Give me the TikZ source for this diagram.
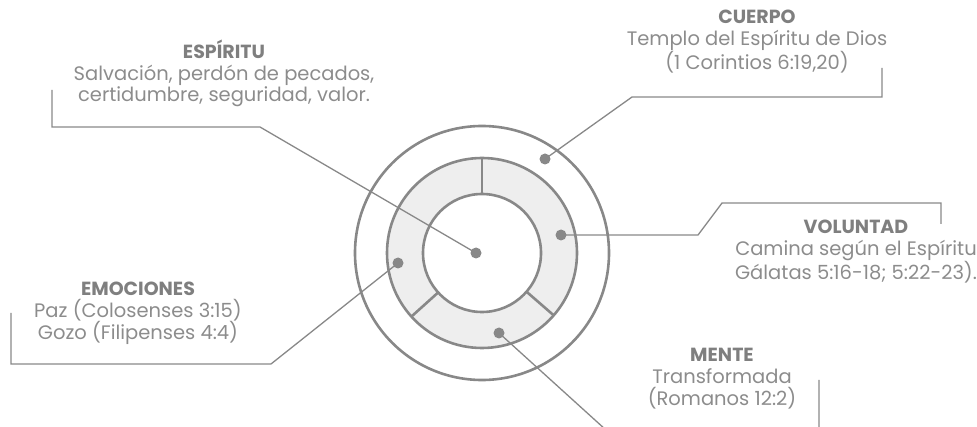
\documentclass[tikz,border=0pt]{standalone}
\usepackage{fontspec}
\setmainfont{Poppins}
\usepackage{tikz}
\usetikzlibrary{positioning}

\definecolor{linegray}{HTML}{888888}
\definecolor{headgray}{HTML}{7F7F7F}
\definecolor{textgray}{HTML}{8C8C8C}
\definecolor{ringgray}{HTML}{EEEEEE}

\newcommand{\titulo}[1]{{\fontsize{19}{20}\selectfont\bfseries\color{headgray}#1}\\[0.5pt]}

\begin{document}
\begin{tikzpicture}[x=1pt,y=-1pt,
    ring/.style={draw=linegray,line width=2.6pt},
    dot/.style={circle,fill=linegray,inner sep=0pt,minimum size=11pt},
    lead/.style={draw=linegray,line width=1.3pt},
    infobox/.style={anchor=base,align=center,inner sep=0pt,text=textgray,
        font=\fontsize{19.5}{21.5}\selectfont}]
  \clip (0,0) rectangle (977,427);

  % circles
  \coordinate (ctr) at (482,253);
  \fill[ringgray,even odd rule] (ctr) circle (95pt) (ctr) circle (59pt);
  \draw[ring] (ctr) circle (127pt);
  \draw[ring] (ctr) circle (95pt);
  \draw[ring] (ctr) circle (59pt);
  \foreach \a in {-90,138,41}
    \draw[ring,shift={(ctr)}] (\a:59) -- (\a:95);

  % dots
  \node[dot] (dEsp) at (476,253) {};
  \node[dot] (dCue) at (545,159) {};
  \node[dot] (dVol) at (561,235) {};
  \node[dot] (dEmo) at (398,263) {};
  \node[dot] (dMen) at (499,333) {};

  % leader lines
  \coordinate (eEsp) at (52,90);
  \coordinate (eCue) at (882,68);
  \coordinate (eVol) at (941,224);
  \coordinate (eEmo) at (11,313);
  \coordinate (eMen) at (819,380);
  \draw[lead] (dEsp.center) -- (260,127) -- (52,127) -- (eEsp);
  \draw[lead] (dCue.center) -- (632,97) -- (882,97) -- (eCue);
  \draw[lead] (dVol.center) -- (698,235) -- (722,203) -- (941,203) -- (eVol);
  \draw[lead] (dEmo.center) -- (271,364) -- (11,364) -- (eEmo);
  \draw[lead] (dMen.center) -- (606,430) -- (819,430) -- (eMen);

  % texts (base = last line)
  \node[infobox] (espiritu) at (224,102)
    {\titulo{ESPÍRITU}Salvación, perdón de pecados,\\certidumbre, seguridad, valor.};
  \node[infobox] (cuerpo) at (757,70)
    {\titulo{CUERPO}Templo del Espíritu de Dios\\(1 Corintios 6:19,20)};
  \node[infobox] (voluntad) at (856,280)
    {\titulo{VOLUNTAD}Camina según el Espíritu\\Gálatas 5:16-18; 5:22-23).};
  \node[infobox] (emociones) at (138,340)
    {\titulo{EMOCIONES}Paz (Colosenses 3:15)\\Gozo (Filipenses 4:4)};
  \node[infobox] (mente) at (722,405)
    {\titulo{MENTE}Transformada\\(Romanos 12:2)};
\end{tikzpicture}
\end{document}
